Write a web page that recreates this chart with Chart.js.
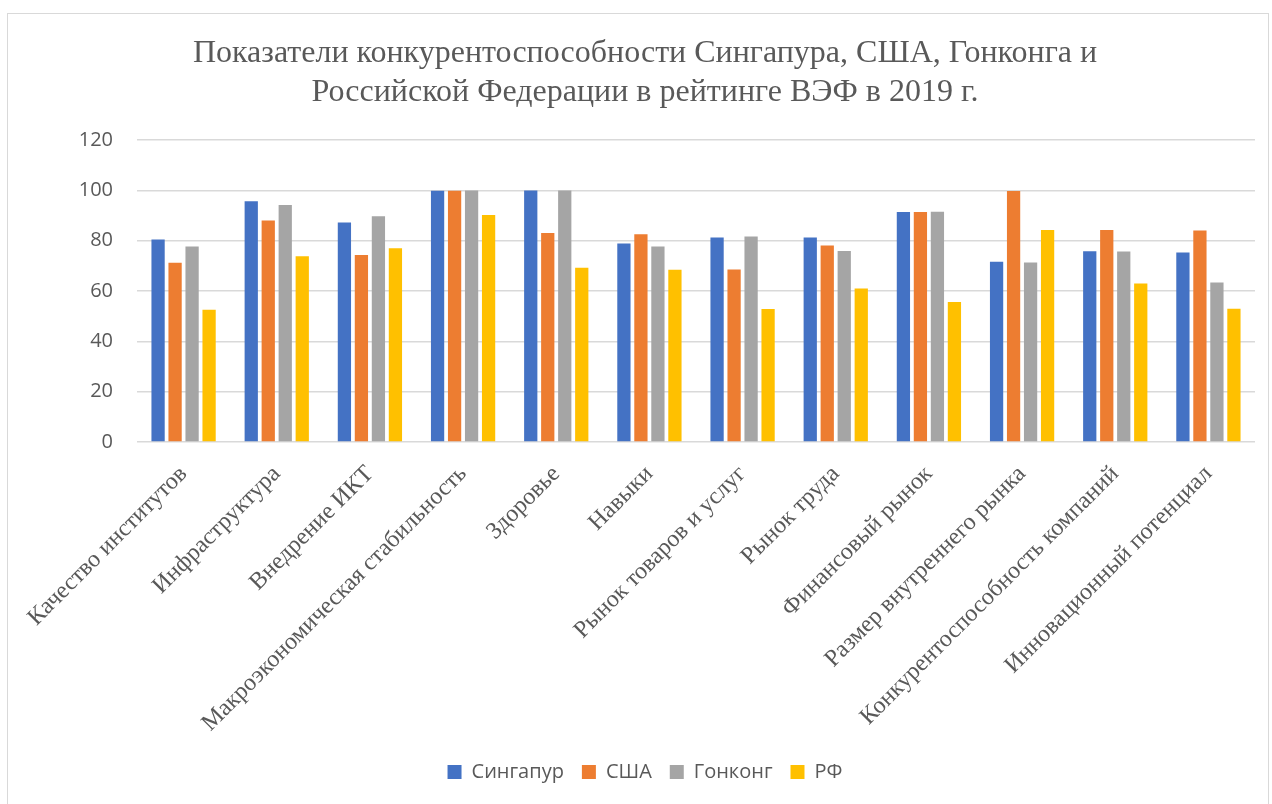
<!DOCTYPE html>
<html>
<head>
<meta charset="utf-8">
<script src="https://cdn.jsdelivr.net/npm/chart.js@4"></script>
<style>
    body { margin: 0; background: #fff; }
    #wrap { position: relative; width: 1272px; height: 804px; }
    #frame { position: absolute; left: 7px; top: 13px; width: 1262px; height: 800px; border: 1px solid #d9d9d9; box-sizing: border-box; pointer-events: none; }
</style>
</head>
<body>
<div id="wrap">
    <canvas id="myChart" width="1272" height="804"></canvas>
    <div id="frame"></div>
</div>
<script>
const categories = ["Качество институтов", "Инфраструктура", "Внедрение ИКТ", "Макроэкономическая стабильность", "Здоровье", "Навыки", "Рынок товаров и услуг", "Рынок труда", "Финансовый рынок", "Размер внутреннего рынка", "Конкурентоспособность компаний", "Инновационный потенциал"];
const singapore = [80.5, 95.7, 87.3, 99.9, 100, 78.9, 81.3, 81.3, 91.4, 71.7, 75.8, 75.3];
const usa = [71.3, 88.1, 74.3, 99.9, 83.1, 82.6, 68.6, 78.1, 91.4, 99.8, 84.3, 84.1];
const hongkong = [77.7, 94.2, 89.7, 100, 100, 77.7, 81.7, 75.9, 91.5, 71.4, 75.7, 63.4];
const russia = [52.6, 73.8, 77, 90.2, 69.3, 68.5, 52.9, 61, 55.7, 84.3, 63, 53];
const yTicks = [0, 20, 40, 60, 80, 100, 120];

const ctx = document.getElementById("myChart").getContext("2d");
const myChart = new Chart(ctx, {
    type: "bar",
    data: {
        labels: categories,
        datasets: [
            { label: "Сингапур", data: singapore, backgroundColor: "#4472C4" },
            { label: "США", data: usa, backgroundColor: "#ED7D31" },
            { label: "Гонконг", data: hongkong, backgroundColor: "#A5A5A5" },
            { label: "РФ", data: russia, backgroundColor: "#FFC000" },
        ],
    },
    options: {
        responsive: false,
        animation: false,
        // left padding shifts title/legend centre to match, y axis width compensates
        layout: { padding: { top: 25, right: 17, bottom: 12, left: 35 } },
        datasets: { bar: { categoryPercentage: 0.73, barPercentage: 0.78 } },
        plugins: {
            title: {
                display: true,
                text: ["Показатели конкурентоспособности Сингапура, США, Гонконга и", "Российской Федерации в рейтинге ВЭФ в 2019 г."],
                font: { family: "'Liberation Serif', serif", size: 32, weight: "normal", lineHeight: 1.19 },
                color: "#595959",
                padding: { top: 10, bottom: 29 },
            },
            legend: {
                position: "bottom",
                labels: {
                    boxWidth: 14,
                    boxHeight: 14,
                    padding: 18,
                    color: "#595959",
                    font: { family: "'Open Sans', sans-serif", size: 20 },
                },
            },
            tooltip: { enabled: false },
        },
        scales: {
            x: {
                grid: { display: false },
                border: { display: false },
                afterFit: (scale) => { scale.height = 302; },
                ticks: {
                    minRotation: 45,
                    maxRotation: 45,
                    autoSkip: false,
                    padding: 10,
                    color: "#595959",
                    font: { family: "'Liberation Serif', serif", size: 24 },
                },
            },
            y: {
                min: 0,
                max: 120,
                afterBuildTicks: (scale) => { scale.ticks = yTicks.map(v => ({ value: v })); },
                afterFit: (scale) => { scale.width = 102; },
                grid: { color: "#d9d9d9", lineWidth: 1.5, drawTicks: false },
                border: { display: false },
                ticks: {
                    padding: 24,
                    color: "#595959",
                    font: { family: "'Open Sans', sans-serif", size: 20 },
                },
            },
        },
    },
});
</script>
</body>
</html>
